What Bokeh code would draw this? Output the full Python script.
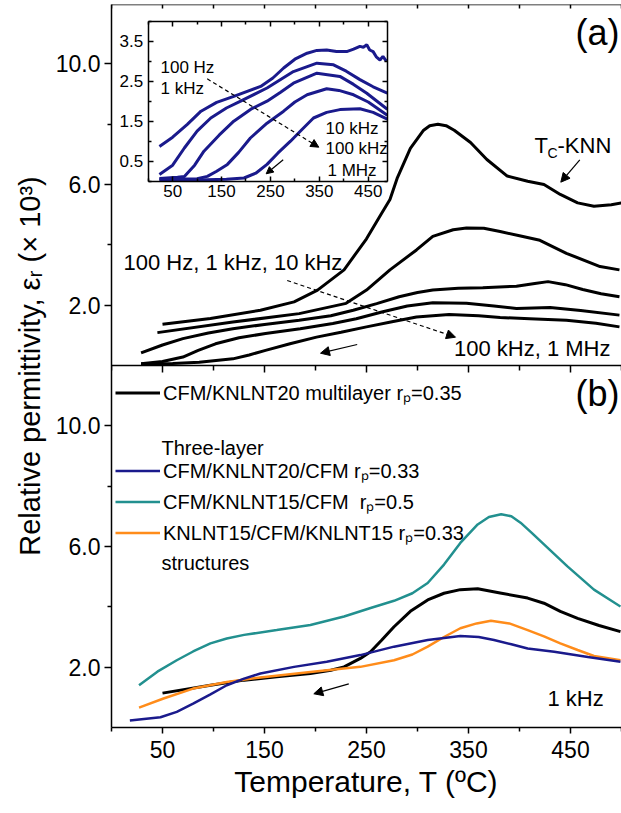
from bokeh.plotting import figure
from bokeh.models import (Range1d, LinearAxis, FixedTicker, Label, Arrow, NormalHead,
                          Legend, LegendItem, ColumnDataSource)
from bokeh.transform import dodge
from bokeh.embed import file_html
from bokeh.resources import INLINE

FONT = "Liberation Sans"
NAVY = "#1a1a8c"
TEAL = "#22908f"
ORANGE = "#ff8c1a"

# ---------------- panel (a): main curves (T in degC, eps_r x10^3) -------------
A_T_100HZ = [50, 97, 146, 179, 202, 228, 250, 264, 273, 280, 293, 306, 312, 320, 328, 336, 352, 368, 388, 408, 424, 440, 457, 473, 490, 500]
A_E_100HZ = [1.37, 1.56, 1.83, 2.11, 2.5, 3.17, 4.2, 5.0, 5.5, 6.2, 7.2, 7.8, 7.95, 8.0, 7.95, 7.8, 7.39, 6.83, 6.28, 6.11, 6.0, 5.67, 5.39, 5.28, 5.33, 5.39]
A_T_1KHZ = [45, 119, 184, 230, 250, 273, 299, 315, 335, 348, 365, 381, 400, 420, 446, 479, 498]
A_E_1KHZ = [1.09, 1.44, 1.72, 2.06, 2.5, 3.17, 3.83, 4.28, 4.5, 4.56, 4.55, 4.44, 4.3, 4.15, 3.72, 3.28, 3.17]
A_T_10KHZ = [29, 50, 70, 95, 119, 150, 184, 215, 237, 260, 282, 300, 315, 340, 364, 397, 415, 428, 445, 462, 480, 498]
A_E_10KHZ = [0.42, 0.68, 0.89, 1.08, 1.22, 1.36, 1.5, 1.65, 1.83, 2.05, 2.28, 2.42, 2.5, 2.56, 2.58, 2.63, 2.72, 2.78, 2.68, 2.52, 2.38, 2.28]
A_T_100KHZ = [29, 50, 70, 85, 102, 125, 151, 185, 217, 240, 266, 290, 315, 348, 375, 397, 430, 460, 498]
A_E_100KHZ = [0.06, 0.13, 0.28, 0.5, 0.72, 0.92, 1.06, 1.22, 1.39, 1.55, 1.78, 1.97, 2.08, 2.06, 1.97, 1.89, 1.92, 1.82, 1.67]
A_T_1MHZ = [29, 60, 86, 119, 135, 151, 175, 201, 225, 250, 275, 299, 331, 360, 381, 410, 446, 475, 498]
A_E_1MHZ = [0.05, 0.07, 0.11, 0.22, 0.35, 0.5, 0.72, 0.94, 1.1, 1.28, 1.45, 1.61, 1.69, 1.65, 1.59, 1.55, 1.5, 1.4, 1.28]

# ---------------- panel (a) inset ----------------
I_T_100HZ = [23, 50, 80, 108, 140, 175, 230, 255, 277, 300, 325, 345, 365, 385, 406, 420, 433, 440, 447, 453, 460, 467, 474, 480, 487]
I_E_100HZ = [0.87, 1.1, 1.42, 1.75, 1.97, 2.12, 2.37, 2.58, 2.83, 3.05, 3.2, 3.27, 3.28, 3.24, 3.24, 3.3, 3.37, 3.35, 3.41, 3.28, 3.24, 3.1, 3.03, 3.12, 3.0]
I_T_1KHZ = [23, 50, 74, 100, 128, 160, 189, 243, 297, 345, 379, 405, 433, 460, 489]
I_E_1KHZ = [0.17, 0.4, 0.83, 1.25, 1.58, 1.83, 2.0, 2.33, 2.74, 2.95, 2.91, 2.75, 2.54, 2.36, 2.2]
I_T_10KHZ = [23, 60, 74, 95, 114, 145, 175, 210, 243, 270, 297, 345, 392, 420, 447, 489]
I_E_10KHZ = [0.07, 0.1, 0.12, 0.4, 0.75, 1.15, 1.5, 1.8, 2.0, 2.22, 2.45, 2.7, 2.62, 2.42, 2.2, 1.8]
I_T_100KHZ = [23, 100, 121, 140, 162, 185, 209, 243, 277, 300, 325, 365, 390, 420, 450, 489]
I_E_100KHZ = [0.05, 0.06, 0.12, 0.25, 0.42, 0.72, 1.08, 1.45, 1.75, 1.98, 2.16, 2.31, 2.27, 2.16, 1.98, 1.65]
I_T_1MHZ = [23, 100, 160, 196, 220, 243, 265, 291, 315, 338, 365, 392, 433, 460, 489]
I_E_1MHZ = [0.03, 0.03, 0.05, 0.08, 0.2, 0.42, 0.7, 1.0, 1.3, 1.58, 1.72, 1.79, 1.81, 1.72, 1.55]

# ---------------- panel (b): 1 kHz comparison ----------------
B_T_MULTI = [50, 97, 130, 162, 195, 215, 228, 244, 254, 265, 277, 293, 310, 326, 342, 359, 381, 408, 424, 440, 457, 478, 499]
B_E_MULTI = [1.14, 1.4, 1.57, 1.68, 1.79, 1.9, 2.01, 2.29, 2.51, 2.9, 3.34, 3.85, 4.23, 4.45, 4.57, 4.6, 4.46, 4.29, 4.12, 3.85, 3.62, 3.38, 3.18]
B_T_KN20 = [18, 48, 64, 80, 97, 113, 130, 146, 179, 211, 244, 277, 310, 342, 360, 375, 392, 408, 434, 467, 499]
B_E_KN20 = [0.23, 0.34, 0.52, 0.79, 1.1, 1.4, 1.62, 1.79, 2.01, 2.18, 2.4, 2.68, 2.9, 3.03, 3.0, 2.9, 2.76, 2.62, 2.51, 2.34, 2.18]
B_T_KN15 = [27, 45, 64, 80, 97, 113, 130, 162, 195, 228, 254, 277, 295, 310, 326, 342, 359, 370, 382, 392, 401, 412, 424, 447, 473, 499]
B_E_KN15 = [1.4, 1.85, 2.23, 2.52, 2.79, 2.95, 3.07, 3.23, 3.4, 3.68, 3.96, 4.2, 4.45, 4.79, 5.4, 6.12, 6.73, 6.98, 7.07, 7.0, 6.79, 6.45, 6.07, 5.34, 4.57, 4.01]
B_T_CFM = [27, 51, 80, 113, 146, 195, 244, 277, 295, 310, 326, 342, 358, 372, 390, 408, 424, 440, 457, 473, 499]
B_E_CFM = [0.66, 0.96, 1.29, 1.51, 1.66, 1.84, 2.01, 2.23, 2.42, 2.68, 3.0, 3.29, 3.45, 3.54, 3.45, 3.23, 3.02, 2.79, 2.57, 2.37, 2.23]

# ---------------- ticks ----------------
X_TICKS = [50, 150, 250, 350, 450]
X_MINOR = [0, 100, 200, 300, 400, 500]
TOP_TICKS = [0, 50, 100, 150, 200, 250, 300, 350, 400, 450, 500]
Y_TICKS = [2, 6, 10]
Y_TICK_LABELS = ["2.0", "6.0", "10.0"]
Y_MINOR = [4, 8]
INSET_X_TICKS = [50, 150, 250, 350, 450]
INSET_X_MINOR = [0, 100, 200, 300, 400]
INSET_Y_TICKS = [0.5, 1.5, 2.5, 3.5]
INSET_Y_MINOR = [0, 1, 2, 3, 4]
INSET_X_MAX = 490
INSET_Y_MAX = 4

# ---------------- layout constants (pixels) ----------------
W, H = 621, 813
BL, BR, BT, BB = 111, 0, 4, 86
FRAME_W = W - BL - BR
FRAME_H = H - BT - BB
PX_PER_UNIT = 362 / 12.0              # panel (b) 0..12 spans 362 px
A_OFF = 12                            # panel (a) stacked above panel (b)
Y_TOP = FRAME_H / PX_PER_UNIT
# inset frame, in pixels from main frame left / bottom
IN_L, IN_R, IN_B, IN_T = 36.7, 276.3, 546.3, 706.3

isx = (IN_R - IN_L) / INSET_X_MAX
isy = (IN_T - IN_B) / INSET_Y_MAX
ix_range = Range1d(-IN_L / isx, INSET_X_MAX + (FRAME_W - IN_R) / isx)
iy_range = Range1d(-IN_B / isy, INSET_Y_MAX + (FRAME_H - IN_T) / isy)

p = figure(width=W, height=H, x_range=Range1d(0, 500), y_range=Range1d(0, Y_TOP),
           output_backend="svg", toolbar_location=None,
           min_border_left=BL, min_border_right=BR, min_border_top=BT, min_border_bottom=BB,
           background_fill_color="white", border_fill_color="white", outline_line_color=None)
p.extra_x_ranges = {"ix": ix_range}
p.extra_y_ranges = {"iy": iy_range}
p.xgrid.visible = False
p.ygrid.visible = False


def style_axis(ax, size="23px", standoff=6, tout=7, mout=4, tin=0, min_in=0, labels=True):
    ax.major_label_text_font = FONT
    ax.major_label_text_font_size = size
    ax.major_label_standoff = standoff
    ax.major_tick_out = tout
    ax.major_tick_in = tin
    ax.minor_tick_out = mout
    ax.minor_tick_in = min_in
    ax.axis_line_width = 1.5
    ax.major_tick_line_width = 1.5
    ax.minor_tick_line_width = 1.5
    ax.axis_line_color = "black"
    ax.major_tick_line_color = "black"
    ax.minor_tick_line_color = "black"
    ax.major_label_text_color = "black" if labels else None
    ax.axis_label_text_font = FONT
    ax.axis_label_text_font_style = "normal"
    ax.axis_label_text_color = "black"


xa = p.xaxis[0]
xa.ticker = FixedTicker(ticks=X_TICKS, minor_ticks=X_MINOR)
style_axis(xa, standoff=7, tout=6, mout=4)
xa.axis_label = "Temperature, T (\u00baC)"
xa.axis_label_text_font_size = "30px"
xa.axis_label_standoff = 4

ya = p.yaxis[0]
ya.ticker = FixedTicker(ticks=Y_TICKS + [t + A_OFF for t in Y_TICKS],
                        minor_ticks=Y_MINOR + [t + A_OFF for t in Y_MINOR])
overrides = {}
for t, s in zip(Y_TICKS, Y_TICK_LABELS):
    overrides[t] = s
    overrides[t + A_OFF] = s
ya.major_label_overrides = overrides
style_axis(ya, standoff=4, tout=7, mout=4)
ya.axis_label = "Relative permittivity, \u03b5\u1d63 (\u00d7 10\u00b3)"
ya.axis_label_text_font_size = "29px"
ya.axis_label_standoff = 7

# axis between the two panels (ticks only)
mid = LinearAxis(fixed_location=A_OFF, ticker=FixedTicker(ticks=X_TICKS, minor_ticks=X_MINOR))
style_axis(mid, standoff=0, tout=7, mout=5, labels=False)
p.add_layout(mid, "below")

# top border with small inward ticks
top = LinearAxis(fixed_location=Y_TOP, ticker=FixedTicker(ticks=TOP_TICKS, minor_ticks=[]))
style_axis(top, standoff=0, tout=0, mout=0, tin=4, labels=False)
p.add_layout(top, "above")

# ---------------- inset axes (boxed, inward ticks) ----------------
ib = LinearAxis(x_range_name="ix", y_range_name="iy", fixed_location=0, bounds=(0, INSET_X_MAX),
                ticker=FixedTicker(ticks=INSET_X_TICKS, minor_ticks=INSET_X_MINOR))
style_axis(ib, size="17px", standoff=4, tout=0, mout=0, tin=5, min_in=3)
p.add_layout(ib, "below")
il = LinearAxis(x_range_name="ix", y_range_name="iy", fixed_location=0, bounds=(0, INSET_Y_MAX),
                ticker=FixedTicker(ticks=INSET_Y_TICKS, minor_ticks=INSET_Y_MINOR))
style_axis(il, size="17px", standoff=5, tout=0, mout=0, tin=5, min_in=3)
p.add_layout(il, "left")
it = LinearAxis(x_range_name="ix", y_range_name="iy", fixed_location=INSET_Y_MAX, bounds=(0, INSET_X_MAX),
                ticker=FixedTicker(ticks=INSET_X_TICKS, minor_ticks=INSET_X_MINOR))
style_axis(it, standoff=0, tout=0, mout=0, tin=5, min_in=3, labels=False)
p.add_layout(it, "above")
ir = LinearAxis(x_range_name="ix", y_range_name="iy", fixed_location=INSET_X_MAX, bounds=(0, INSET_Y_MAX),
                ticker=FixedTicker(ticks=INSET_Y_TICKS, minor_ticks=INSET_Y_MINOR))
style_axis(ir, standoff=0, tout=0, mout=0, tin=5, min_in=3, labels=False)
p.add_layout(ir, "right")

# ---------------- curves ----------------
for T, E in [(A_T_100HZ, A_E_100HZ), (A_T_1KHZ, A_E_1KHZ), (A_T_10KHZ, A_E_10KHZ),
             (A_T_100KHZ, A_E_100KHZ), (A_T_1MHZ, A_E_1MHZ)]:
    src = ColumnDataSource(dict(t=T, e=E))
    p.line("t", dodge("e", A_OFF), source=src, line_color="black", line_width=3)

for T, E in [(I_T_100HZ, I_E_100HZ), (I_T_1KHZ, I_E_1KHZ), (I_T_10KHZ, I_E_10KHZ),
             (I_T_100KHZ, I_E_100KHZ), (I_T_1MHZ, I_E_1MHZ)]:
    p.line("t", "e", source=ColumnDataSource(dict(t=T, e=E)), x_range_name="ix", y_range_name="iy",
           line_color=NAVY, line_width=3)

r_teal = p.line("t", "e", source=ColumnDataSource(dict(t=B_T_KN15, e=B_E_KN15)), line_color=TEAL, line_width=2.5)
r_black = p.line("t", "e", source=ColumnDataSource(dict(t=B_T_MULTI, e=B_E_MULTI)), line_color="black", line_width=3)
r_orange = p.line("t", "e", source=ColumnDataSource(dict(t=B_T_CFM, e=B_E_CFM)), line_color=ORANGE, line_width=2.5)
r_navy = p.line("t", "e", source=ColumnDataSource(dict(t=B_T_KN20, e=B_E_KN20)), line_color=NAVY, line_width=2.5)


def make_legend(items, loc):
    lg = Legend(items=items, location=loc, border_line_color=None, background_fill_alpha=0,
                padding=0, margin=0, spacing=4, glyph_width=45, glyph_height=23, label_height=23,
                label_standoff=3, label_text_font=FONT, label_text_font_size="20px",
                label_text_color="black")
    p.add_layout(lg)


make_legend([LegendItem(label="CFM/KNLNT20 multilayer r\u209a=0.35", renderers=[r_black])], (4, 321))
make_legend([LegendItem(label="CFM/KNLNT20/CFM r\u209a=0.33", renderers=[r_navy]),
             LegendItem(label="CFM/KNLNT15/CFM  r\u209a=0.5", renderers=[r_teal]),
             LegendItem(label="KNLNT15/CFM/KNLNT15 r\u209a=0.33", renderers=[r_orange])], (4, 181))


def lab(text, x, y, size, align="left"):
    p.add_layout(Label(x=x, y=y, x_units="screen", y_units="screen", text=text,
                       text_font=FONT, text_font_size=size, text_align=align,
                       text_baseline="middle", text_color="black"))


def arrow(xs, ys, xe, ye, dash="solid", size=9):
    p.add_layout(Arrow(x_start=xs, y_start=ys, x_end=xe, y_end=ye,
                       start_units="screen", end_units="screen",
                       line_color="black", line_width=1.2, line_dash=dash,
                       end=NormalHead(size=size, fill_color="black", line_color="black",
                                      line_width=1)))


# texts panel (a)
lab("100 Hz, 1 kHz, 10 kHz", 12, 465, "22px")
lab("100 kHz, 1 MHz", 499, 379, "22px", align="right")
lab("T", 423, 582, "22px")
lab("C", 436, 575, "14px")
lab("-KNN", 446, 582, "22px")
lab("(a)", 508, 695, "36px", align="right")
arrow(175.7, 447, 344, 390.3, dash="4 3")
arrow(245.7, 383, 209, 374.3)
arrow(468.3, 567.7, 449.3, 545.3)

# inset texts
lab("100 Hz", 49, 660, "17px")
lab("1 kHz", 49, 639, "17px")
lab("10 kHz", 214, 599, "17px")
lab("100 kHz", 214, 579, "17px")
lab("1 MHz", 216, 557, "17px")
arrow(95.7, 648.7, 207.3, 580.3, dash="4 3", size=8)
arrow(171.7, 567.7, 154.7, 553.7, size=7)

# texts panel (b)
lab("(b)", 508, 334, "36px", align="right")
lab("Three-layer", 50, 280, "20px")
lab("structures", 50, 165, "20px")
lab("1 kHz", 436, 29, "22px")
arrow(237.3, 43.7, 202.3, 33.7)

open("out.html", "w").write(file_html(p, INLINE))
